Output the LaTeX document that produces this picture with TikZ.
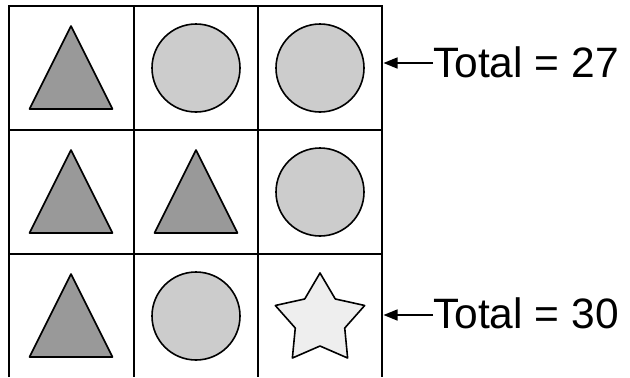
\documentclass[tikz,border=0pt]{standalone}
\usepackage{fontspec}
\setmainfont{Liberation Sans}
\usetikzlibrary{arrows.meta}
\definecolor{trigray}{HTML}{999999}
\definecolor{circgray}{HTML}{CCCCCC}
\definecolor{stargray}{HTML}{EEEEEE}
\tikzset{
  gridline/.style={line width=2bp, black},
  shapeline/.style={line width=1.6bp, draw=black, line join=round},
  tri/.style={shapeline, fill=trigray},
  circ/.style={shapeline, fill=circgray},
  starfill/.style={shapeline, fill=stargray},
  totaltext/.style={anchor=base west, inner sep=0pt, font=\fontsize{42.5bp}{50bp}\selectfont},
  pointer/.style={line width=1.5bp, -{Triangle[length=14bp, width=11bp]}}
}
\begin{document}
\begin{tikzpicture}[x=1bp, y=-1bp]
\useasboundingbox (0,0) rectangle (630,377);
% grid
\draw[gridline] (8.5,377) -- (8.5,6) -- (382,6) -- (382,377);
\draw[gridline] (134,6) -- (134,377);
\draw[gridline] (258,6) -- (258,377);
\draw[gridline] (8.5,130) -- (382,130);
\draw[gridline] (8.5,254) -- (382,254);
% cell centres
\coordinate (c11) at (71,68);
\coordinate (c12) at (196,68);
\coordinate (c13) at (320,68);
\coordinate (c21) at (71,192);
\coordinate (c22) at (196,192);
\coordinate (c23) at (320,192);
\coordinate (c31) at (71,316);
\coordinate (c32) at (196,316);
\coordinate (c33) at (320,320);
% triangles
\foreach \c in {c11,c21,c22,c31}
  \draw[tri] (\c) +(0,-42) -- +(41.5,41) -- +(-41.5,41) -- cycle;
% circles
\foreach \c in {c12,c13,c23,c32}
  \draw[circ] (\c) circle[radius=44];
% star
\draw[starfill] (c33) +(-90:47) -- +(-54:26) -- +(-18:47) -- +(18:26) -- +(54:47)
  -- +(90:26) -- +(126:47) -- +(162:26) -- +(198:47) -- +(234:26) -- cycle;
% totals
\node[totaltext] (t1) at (433,77) {Total = 27};
\node[totaltext] (t2) at (433,328) {Total = 30};
\coordinate (e1) at (383.5,63);
\coordinate (e2) at (383.5,315);
\draw[pointer] (t1.west |- e1) -- (e1);
\draw[pointer] (t2.west |- e2) -- (e2);
\end{tikzpicture}
\end{document}
